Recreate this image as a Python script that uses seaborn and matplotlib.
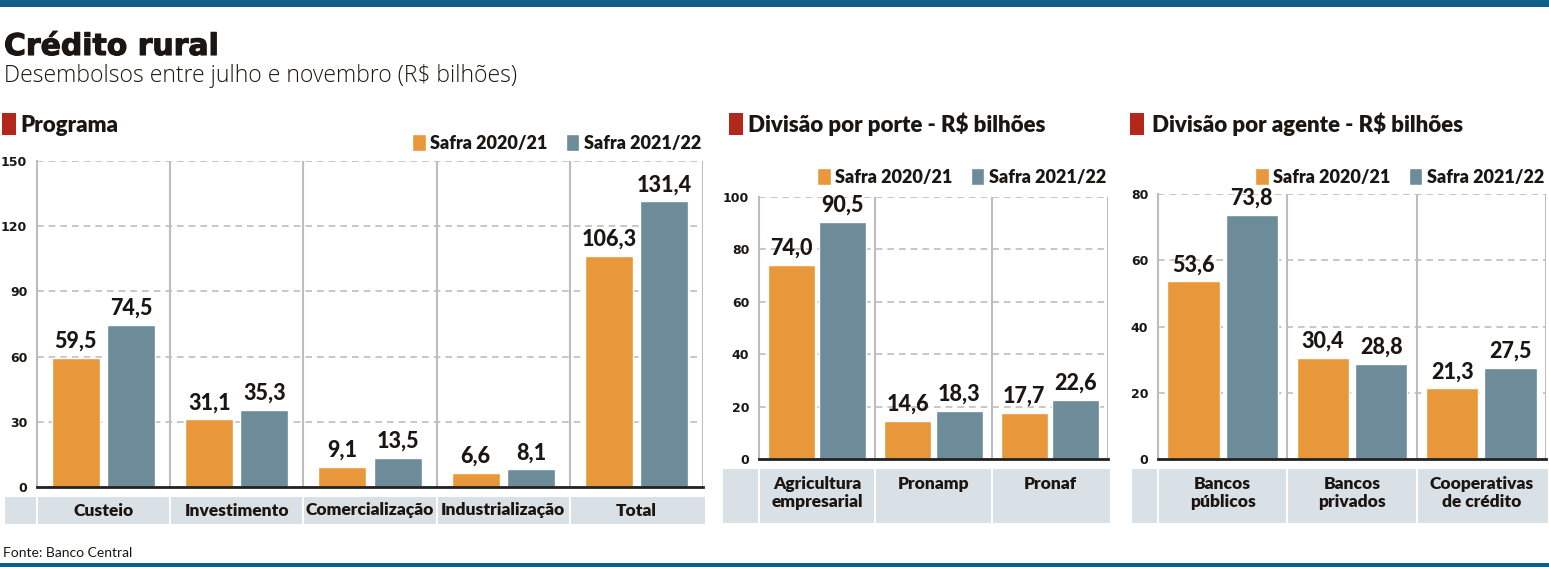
import numpy as np
import pandas as pd
import seaborn as sns
import matplotlib.pyplot as plt
import matplotlib.patheffects as pe
from matplotlib.patches import Rectangle

# Crédito rural - desembolsos entre julho e novembro (R$ bilhões)
safras = ["Safra 2020/21", "Safra 2021/22"]

programa_cat = ["Custeio", "Investimento", "Comercialização", "Industrialização", "Total"]
programa_2021 = [59.5, 31.1, 9.1, 6.6, 106.3]
programa_2122 = [74.5, 35.3, 13.5, 8.1, 131.4]
programa_ticks = [0, 30, 60, 90, 120, 150]

porte_cat = ["Agricultura\nempresarial", "Pronamp", "Pronaf"]
porte_2021 = [74.0, 14.6, 17.7]
porte_2122 = [90.5, 18.3, 22.6]
porte_ticks = [0, 20, 40, 60, 80, 100]

agente_cat = ["Bancos\npúblicos", "Bancos\nprivados", "Cooperativas\nde crédito"]
agente_2021 = [53.6, 30.4, 21.3]
agente_2122 = [73.8, 28.8, 27.5]
agente_ticks = [0, 20, 40, 60, 80]

ORANGE = "#E8983A"
BLUE = "#6C8C9A"
BAND = "#D9E0E6"
GRID = "#BDBDBD"
RED = "#B3281A"
BAR = "#0E5E87"
TEXT = "#1C1612"
HEAVY = "heavy"

W, H = 1549, 567

sns.set_style("white")
plt.rcParams["font.family"] = ["Lato", "DejaVu Sans"]

fig = plt.figure(figsize=(W / 100, H / 100), dpi=100)


def fx(x):
    return x / W


def fy(y):
    return 1 - y / H


def box(x0, y0, x1, y1, color):
    fig.add_artist(Rectangle((fx(x0), fy(y1)), (x1 - x0) / W, (y1 - y0) / H,
                             transform=fig.transFigure, color=color, lw=0))


def panel(cats, v1, v2, ticks, frame, band, title, title_x, sq_x, legend_y,
          width, gap, two_lines):
    left, top, right, bottom = frame
    ax = fig.add_axes([fx(left), fy(bottom), (right - left) / W, (bottom - top) / H])
    df = pd.DataFrame({
        "categoria": cats * 2,
        "valor": v1 + v2,
        "safra": [safras[0]] * len(cats) + [safras[1]] * len(cats),
    })
    sns.barplot(data=df, x="categoria", y="valor", hue="safra", order=cats,
                palette=[ORANGE, BLUE], width=width, gap=gap, saturation=1,
                ax=ax, zorder=3)
    ax.set_ylim(ticks[0], ticks[-1])
    ax.set_yticks(ticks)
    ax.set_xlim(-0.5, len(cats) - 0.5)
    ax.set_xlabel("")
    ax.set_ylabel("")
    ax.set_xticks([])
    ax.yaxis.grid(True, linestyle=(0, (4, 3)), color=GRID, lw=1.2, zorder=0)
    ax.set_axisbelow(True)
    for i in range(len(cats)):
        ax.axvline(i + 0.5, color=GRID, lw=1.5, zorder=1)
    for s in ["top", "right"]:
        ax.spines[s].set_visible(False)
    ax.spines["left"].set_color(GRID)
    ax.spines["left"].set_linewidth(1.5)
    ax.spines["bottom"].set_color("#222222")
    ax.spines["bottom"].set_linewidth(2)
    ax.spines["bottom"].set_zorder(5)
    ax.tick_params(axis="y", length=0, pad=7, labelsize=9, labelcolor=TEXT)
    for lbl in ax.get_yticklabels():
        lbl.set_fontweight("bold")
        lbl.set_family("DejaVu Sans")

    for c in ax.containers:
        ax.bar_label(c, labels=[f"{v:.1f}".replace(".", ",") for v in c.datavalues],
                     padding=4.5, fontsize=15.5, fontweight="black", color=TEXT)

    sns.move_legend(ax, "center right", bbox_to_anchor=(fx(right - 2), fy(legend_y)),
                    bbox_transform=fig.transFigure, ncol=2, frameon=False, title=None,
                    handlelength=0.75, handleheight=1.1, handletextpad=0.25,
                    columnspacing=1.0, borderaxespad=0, borderpad=0,
                    prop={"weight": HEAVY, "size": 13})
    for t in ax.get_legend().get_texts():
        t.set_color(TEXT)

    # label band under the bars
    b_left, b_top, b_right, b_bottom = band
    step = (right - left) / len(cats)
    box(b_left, b_top, left - 1, b_bottom, BAND)
    for i, cat in enumerate(cats):
        x0 = left + i * step + 1
        x1 = left + (i + 1) * step - 1 if i < len(cats) - 1 else b_right
        box(x0, b_top, x1, b_bottom, BAND)
        cx = left + (i + 0.5) * step
        if two_lines:
            fig.text(fx(cx), fy(b_top + 7), cat, ha="center", va="top",
                     fontsize=12.5, fontweight=HEAVY, color=TEXT, linespacing=1.15)
        else:
            fig.text(fx(cx), fy((b_top + b_bottom) / 2), cat, ha="center", va="center",
                     fontsize=12.5, fontweight=HEAVY, color=TEXT)

    box(sq_x, 113, sq_x + 14, 135, RED)
    fig.text(fx(title_x), fy(132), title, fontsize=16, fontweight=HEAVY,
             color=TEXT, va="baseline")
    return ax


panel(programa_cat, programa_2021, programa_2122, programa_ticks,
      (37, 161, 703, 487), (5, 497, 705, 524), "Programa", 20, 2, 143,
      0.83, 0.13, False)
panel(porte_cat, porte_2021, porte_2122, porte_ticks,
      (759, 197, 1108, 459), (723, 469, 1110, 523), "Divisão por porte - R$ bilhões",
      748, 729, 177, 0.88, 0.08, True)
panel(agente_cat, agente_2021, agente_2122, agente_ticks,
      (1158, 194, 1546, 459), (1132, 469, 1548, 523), "Divisão por agente - R$ bilhões",
      1152, 1130, 177, 0.9, 0.1, True)

# header / footer
box(0, 0, W, 7, BAR)
box(0, 563, W, H, BAR)
fig.text(fx(4), fy(55), "Crédito rural", fontsize=21.5, fontweight="bold",
         family="DejaVu Sans", color=TEXT, va="baseline",
         path_effects=[pe.withStroke(linewidth=0.8, foreground=TEXT)])
fig.text(fx(4), fy(82), "Desembolsos entre julho e novembro (R$ bilhões)",
         fontsize=16.5, fontweight="light", family=["Open Sans", "DejaVu Sans"],
         color=TEXT, va="baseline")
fig.text(fx(3), fy(557), "Fonte: Banco Central", fontsize=10, color=TEXT,
         va="baseline")

fig.savefig("out.png", dpi=100)
